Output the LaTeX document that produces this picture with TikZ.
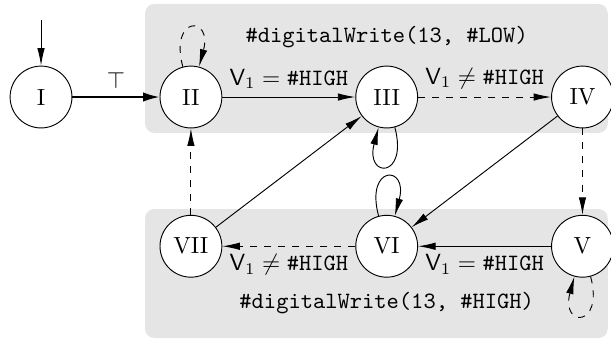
\documentclass[tikz,border=0pt]{standalone}
\usepackage{amsmath,amssymb}
\usepackage{tikz}
\usetikzlibrary{
  arrows.meta,
  positioning, calc,
  backgrounds
}
\tikzset{
  stnode/.style={circle,draw,fill=white,minimum size=0.93cm,inner sep=0pt},
  codetxt/.style={font=\ttfamily},
  zone/.style={fill=gray!20,rounded corners=4pt},
  arr/.style={-{Latex[length=7.5pt,width=3.2pt]}},
  thickarr/.style={-{Latex[length=7pt,width=4pt]},thick},
  dasharr/.style={arr,dashed},
  every loop/.style={min distance=8mm}
}
\newcommand{\vone}{\mathsf{V}_1}

\begin{document}
\begin{tikzpicture}[node distance=2cm]
  \useasboundingbox (-0.617,-3.639) rectangle (8.571,1.459);
  \node[stnode] (I) {I};
  \node[stnode,right=1.31cm of I] (II) {II};
  \node[stnode,right=of II] (III) {III};
  \node[stnode,right=of III] (IV) {IV};
  \node[stnode,below=1.3cm of II] (VII) {VII};
  \node[stnode,below=1.3cm of III] (VI) {VI};
  \node[stnode,below=1.3cm of IV] (V) {V};
  \node[codetxt,above=0.15cm of III] (lowtxt) {\#digitalWrite(13, \#LOW)};
  \node[codetxt,below=0.1cm of VI] (hightxt) {\#digitalWrite(13, \#HIGH)};
  \coordinate[above=0.68cm of I] (start);
  % shaded output zones
  \begin{scope}[on background layer]
    \fill[zone] ($(II.center)+(-0.69,-0.54)$) rectangle ($(IV.center)+(0.38,1.40)$);
    \fill[zone] ($(VII.center)+(-0.69,-1.38)$) rectangle ($(V.center)+(0.38,0.56)$);
  \end{scope}
  \draw[arr] (start) -- (I);
  \draw[thickarr] (I) -- node[above] {$\top$} (II);
  \draw[arr] (II) -- node[above] {$\vone = \texttt{\#HIGH}$} (III);
  \draw[dasharr] (III) -- node[above] {$\vone \neq \texttt{\#HIGH}$} (IV);
  \draw[arr] (V) -- node[below] {$\vone = \texttt{\#HIGH}$} (VI);
  \draw[dasharr] (VI) -- node[below] {$\vone \neq \texttt{\#HIGH}$} (VII);
  \foreach \a/\b in {IV/VI,VII/III} \draw[arr] (\a)--(\b);
  \foreach \a/\b in {IV/V,VII/II} \draw[dasharr] (\a)--(\b);
  % self loops
  \path (II) edge[dasharr,loop above] (II);
  \path (VI) edge[arr,loop above] (VI);
  \path (III) edge[arr,out=-75,in=-105,loop] (III);
  \path (V) edge[dasharr,out=-75,in=-105,loop] (V);
\end{tikzpicture}
\end{document}
